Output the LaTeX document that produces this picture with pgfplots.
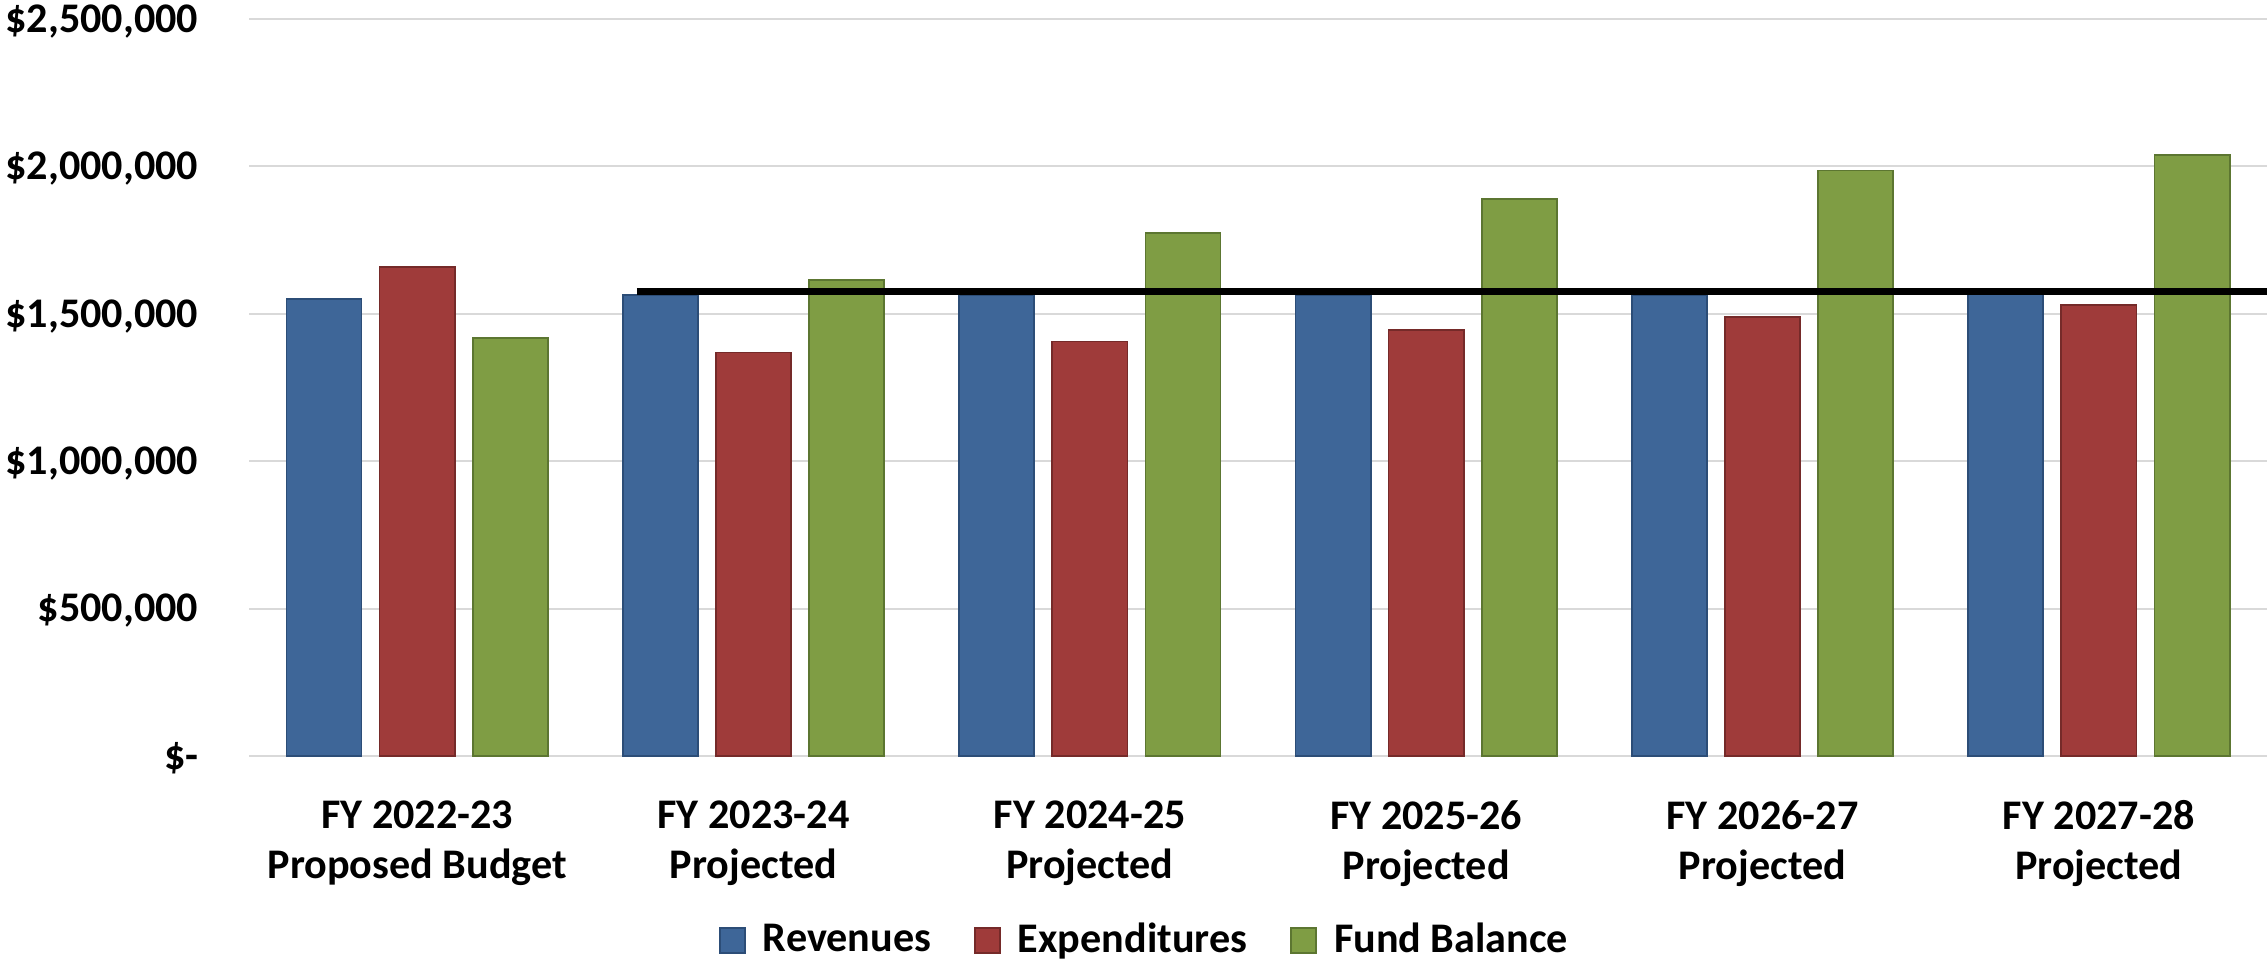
\documentclass[border=0pt]{standalone}
\usepackage{pgfplots}
\pgfplotsset{compat=1.18}
\usepackage{fontspec}
\setmainfont{Carlito}
\definecolor{rev}{HTML}{3E6698}
\definecolor{revd}{HTML}{2C4D77}
\definecolor{expc}{HTML}{9F3B3A}
\definecolor{expd}{HTML}{752A29}
\definecolor{fund}{HTML}{7F9D44}
\definecolor{fundd}{HTML}{5C7631}
\definecolor{gridc}{HTML}{D9D9D9}
\begin{document}
\begin{tikzpicture}
\useasboundingbox (0,0) rectangle (22.67cm,9.58cm);
\begin{axis}[
  at={(2.49cm,2.02cm)}, anchor=south west,
  scale only axis, width=20.18cm, height=7.37cm,
  xmin=-0.5, xmax=5.5, ymin=0, ymax=2500000,
  axis line style={draw=none}, tick style={draw=none},
  ymajorgrids, grid style={gridc, line width=0.6pt},
  xtick={0,1,2,3,4,5},
  xticklabels={{FY 2022-23\\Proposed Budget},{FY 2023-24\\Projected},{FY 2024-25\\Projected},{FY 2025-26\\Projected},{FY 2026-27\\Projected},{FY 2027-28\\Projected}},
  ytick={0,500000,1000000,1500000,2000000,2500000},
  yticklabels={\$-,{\$500,000},{\$1,000,000},{\$1,500,000},{\$2,000,000},{\$2,500,000}},
  scaled y ticks=false,
  yticklabel style={anchor=base east, inner sep=0pt, xshift=-0.5cm, yshift=-3.8pt, font=\fontsize{12}{14}\selectfont\bfseries},
  xticklabel style={anchor=north, inner sep=0pt, yshift=-0.44cm, align=center, font=\fontsize{12}{14.2}\selectfont\bfseries},
  legend columns=3,
  legend style={at={(0.445,-0.2500)}, anchor=center, draw=none, fill=none, inner sep=0pt,
    font=\fontsize{12}{14}\selectfont\bfseries,
    /tikz/every odd column/.style={column sep=0.10cm},
    /tikz/every even column/.style={column sep=0.36cm}},
  legend image code/.code={\filldraw[#1] (0cm,-0.125cm) rectangle (0.25cm,0.125cm);},
]
\addplot[ybar, bar width=0.2236, bar shift=-0.277, fill=rev, draw=revd, line width=0.5pt]
  coordinates {(0,1549000) (1,1565000) (2,1563000) (3,1563000) (4,1565000) (5,1567000)};
\addlegendentry{Revenues}
\addplot[ybar, bar width=0.2236, bar shift=0, fill=expc, draw=expd, line width=0.5pt]
  coordinates {(0,1659000) (1,1369000) (2,1406000) (3,1446000) (4,1488000) (5,1530000)};
\addlegendentry{Expenditures}
\addplot[ybar, bar width=0.2236, bar shift=0.277, fill=fund, draw=fundd, line width=0.5pt]
  coordinates {(0,1418000) (1,1614000) (2,1773000) (3,1890000) (4,1986000) (5,2039000)};
\addlegendentry{Fund Balance}
\addplot[black, line width=2pt, forget plot, sharp plot]
  coordinates {(0.653,1577000) (5.5,1577000)};
\end{axis}
\end{tikzpicture}
\end{document}
